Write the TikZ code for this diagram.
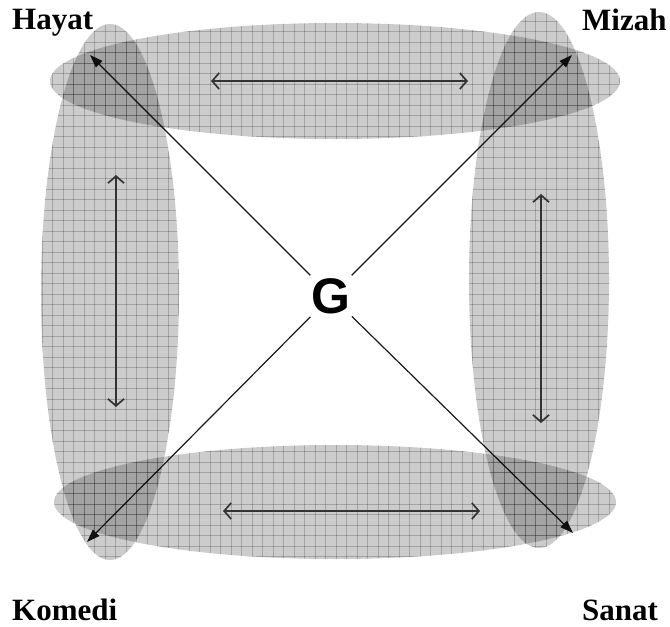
\documentclass[tikz,border=0pt]{standalone}
\usepackage{fontspec}
\setmainfont{Liberation Serif}
\newfontfamily\gsans{Liberation Sans}
\usetikzlibrary{arrows.meta}
\tikzset{
  shade/.style={fill=black, fill opacity=0.2},
  gridl/.style={draw=black, draw opacity=0.2, line width=1pt},
  diag/.style={line width=1.2pt, draw=black!90, -{Triangle[length=13pt,width=9pt]}},
  dbl/.style={line width=1.7pt, draw=black!80, {Straight Barb[length=7pt,width=16pt]}-{Straight Barb[length=7pt,width=16pt]}},
  lab/.style={font=\bfseries\fontsize{31}{31}\selectfont, inner sep=0pt, anchor=base west},
}
\begin{document}
\begin{tikzpicture}[x=1pt,y=-1pt]
\useasboundingbox (0,0) rectangle (670,627);
% corners for diagonals
\coordinate (hc) at (90,55);
\coordinate (mc) at (572,55);
\coordinate (kc) at (87,542);
\coordinate (sc) at (573,533);
\node[circle, minimum size=58pt, inner sep=0pt, font=\gsans\bfseries\fontsize{50}{50}\selectfont] (G) at (331,296) {G};
\draw[diag] (G) -- (hc);
\draw[diag] (G) -- (mc);
\draw[diag] (G) -- (kc);
\draw[diag] (G) -- (sc);
% ellipses
\foreach \cx/\cy/\rx/\ry in {335/81/285/58, 110/292/69/268, 539/280/70/268, 335/502/281/57}{
  \begin{scope}
    \fill[shade] (\cx,\cy) ellipse [x radius=\rx, y radius=\ry];
    \clip (\cx,\cy) ellipse [x radius=\rx, y radius=\ry];
    \foreach \g in {0,10.5,...,670}{
      \draw[gridl] (\g,0) -- (\g,627);
      \draw[gridl] (0,\g) -- (670,\g);
    }
  \end{scope}
}
% double arrows
\coordinate (t1) at (211,81); \coordinate (t2) at (468,81);
\coordinate (b1) at (223,511); \coordinate (b2) at (480,511);
\coordinate (l1) at (116,175); \coordinate (l2) at (116,407);
\coordinate (r1) at (541,194); \coordinate (r2) at (541,423);
\draw[dbl] (t1) -- (t2);
\draw[dbl] (b1) -- (b2);
\draw[dbl] (l1) -- (l2);
\draw[dbl] (r1) -- (r2);
% labels
\node[lab] (hayat) at (12,29) {Hayat};
\node[lab] (mizah) at (582,30) {Mizah};
\node[lab] (komedi) at (12,620) {Komedi};
\node[lab] (sanat) at (582,620) {Sanat};
\end{tikzpicture}
\end{document}
